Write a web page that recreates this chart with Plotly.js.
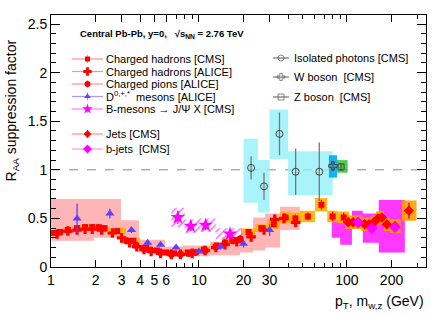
<!DOCTYPE html>
<html><head><meta charset="utf-8">
<script src="https://cdn.plot.ly/plotly-3.0.1.min.js"></script>
<style>html,body{margin:0;padding:0;background:#fff}#c{width:436px;height:316px}</style>
</head><body><div id="c"></div>
<script>
// ---------------- data ----------------
// Charged hadrons [CMS]
const cmsEdges = [1,1.1,1.2,1.4,1.6,1.8,2.0,2.2,2.4,3.2,4.0,4.8,5.6,6.4,7.2,9.6,12,14.4,19.2,24,28.8,35.2,41.6,48,60.8,73.6,86.4,103.6];
const cmsX = [1.05,1.15,1.3,1.5,1.7,1.9,2.1,2.3,2.8,3.6,4.4,5.2,6.0,6.8,8.4,10.8,13.2,16.8,21.6,26.4,32,38.4,44.8,54.4,67.2,80,95];
const cmsY = [0.35,0.36,0.38,0.40,0.41,0.41,0.41,0.40,0.37,0.27,0.20,0.17,0.15,0.14,0.15,0.18,0.22,0.28,0.36,0.40,0.44,0.51,0.50,0.52,0.64,0.52,0.51];
const cmsStat = [0.01,0.01,0.01,0.01,0.01,0.01,0.01,0.01,0.01,0.01,0.01,0.01,0.01,0.01,0.01,0.01,0.01,0.01,0.02,0.02,0.03,0.04,0.04,0.04,0.05,0.05,0.05];
const cmsSys = [0.03,0.03,0.03,0.03,0.03,0.03,0.03,0.03,0.035,0.03,0.025,0.02,0.02,0.02,0.02,0.02,0.025,0.03,0.035,0.04,0.05,0.06,0.06,0.06,0.07,0.06,0.06];
// Charged hadrons [ALICE]
const aliX = [1.1,1.3,1.5,1.7,1.9,2.2,2.6,3.0,3.4,3.8,4.25,4.75,5.5,6.5,7.5,9,11,13,15,18,22.5,27.5,32.5,37.5,45];
const aliY = [0.34,0.37,0.38,0.39,0.39,0.38,0.35,0.30,0.25,0.21,0.18,0.16,0.14,0.13,0.13,0.14,0.17,0.20,0.23,0.26,0.31,0.38,0.49,0.50,0.46];
const aliErr = [0.01,0.01,0.01,0.01,0.01,0.01,0.01,0.01,0.01,0.01,0.01,0.01,0.01,0.01,0.01,0.01,0.01,0.02,0.02,0.02,0.03,0.04,0.05,0.05,0.05];
const aliBoxLo = [1,1.95,2.97,3.93,5.9,7.8,11.9,18.9,23.2,28,35.3];
const aliBoxHi = [1.95,2.97,3.93,5.9,7.8,11.9,18.9,23.2,28,35.3,48];
const aliBoxY0 = [0.27,0.30,0.24,0.15,0.11,0.11,0.12,0.15,0.17,0.20,0.38];
const aliBoxY1 = [0.70,0.70,0.48,0.28,0.21,0.22,0.26,0.33,0.51,0.55,0.62];
// Charged pions [ALICE]
const pioX = [3.25,3.75,4.25,4.75,5.5,6.5,7.5,8.5,9.5,11,13,15,17,19];
const pioY = [0.27,0.22,0.19,0.17,0.15,0.13,0.13,0.14,0.15,0.17,0.21,0.25,0.27,0.29];
// D mesons [ALICE]
const dX = [1.5,2.5,3.5,4.5,5.5,7,10,14,20,30];
const dY = [0.50,0.55,0.38,0.25,0.23,0.20,0.16,0.21,0.24,0.38];
const dErr = [0.15,0.05,0.03,0.02,0.02,0.02,0.02,0.03,0.04,0.06];
// B-mesons -> J/psi X [CMS]
const bX = [7.2,8.8,11.1,16.2];
const bY = [0.51,0.42,0.43,0.34];
const bErr = [0.07,0.05,0.05,0.05];
const bBoxLo = [6.5,8,10,13];
const bBoxHi = [8,10,13,20];
const bSys = [0.10,0.07,0.07,0.06];
// Jets [CMS]
const jX = [102,110,119,132,141,152,162,172,186,211,262];
const jY = [0.46,0.46,0.46,0.44,0.44,0.46,0.50,0.51,0.44,0.42,0.58];
const jErr = [0.03,0.03,0.03,0.03,0.03,0.03,0.04,0.04,0.04,0.05,0.08];
const jLo = [97,106,114,125,136,146,157,167,178,196,235];
const jHi = [106,114,125,136,146,157,167,178,196,230,295];
const jSys = [0.07,0.07,0.07,0.07,0.07,0.07,0.07,0.07,0.07,0.07,0.105];
// b-jets [CMS]
const bjX = [119,147,211];
const bjY = [0.46,0.40,0.41];
const bjBoxLo = [79,90,108,128,164];
const bjBoxHi = [108,108,128,164,246];
const bjBoxY0 = [0.30,0.23,0.40,0.25,0.15];
const bjBoxY1 = [0.48,0.30,0.58,0.55,0.69];
// Isolated photons [CMS]
const phX = [22.5,27.5,35,45,65];
const phY = [1.02,0.83,1.37,0.98,0.98];
const phErr = [0.12,0.14,0.22,0.24,0.30];
const phLo = [20,25,30,40,50];
const phHi = [25,30,40,50,80];
const phBoxY0 = [0.66,0.56,1.11,0.74,0.74];
const phBoxY1 = [1.32,1.10,1.62,1.19,1.19];
// W and Z bosons [CMS]
const wX = [80.4], wY = [1.04], wErr = [0.05], wLo = [75.5], wHi = [85.6], wBoxY0 = [0.92], wBoxY1 = [1.15];
const zX = [91.2], zY = [1.03], zErr = [0.04], zLo = [85.6], zHi = [101], zBoxY0 = [0.97], zBoxY1 = [1.10];
// axis ticks
const xTicks = [1,2,3,4,5,6,10,20,30,100,200];
const yTicks = [0,0.5,1,1.5,2,2.5];
const yTickText = ['0','0.5','1','1.5','2','2.5'];

// ---------------- helpers ----------------
const FONT = 'Liberation Sans, Arial, Helvetica, sans-serif';
// plot frame in pixels (for legend placement only)
const PL = 51, PR = 426, PT = 15, PB = 267;
const px2paperX = p => (p - PL) / (PR - PL);
const px2paperY = p => (PB - p) / (PB - PT);
function rects(x0,x1,y0,y1){
  const xs=[],ys=[];
  for(let i=0;i<x0.length;i++){
    xs.push(x0[i],x1[i],x1[i],x0[i],x0[i],null);
    ys.push(y0[i],y0[i],y1[i],y1[i],y0[i],null);
  }
  return {xs,ys};
}
function boxTrace(r,color,extra){
  return Object.assign({type:'scatter',mode:'lines',x:r.xs,y:r.ys,fill:'toself',fillcolor:color,
    line:{width:0,color:color},hoverinfo:'skip',showlegend:false},extra||{});
}
function pts(x,y,err,sym,size,color,ecolor,extra){
  const t={type:'scatter',mode:'markers',x:x,y:y,showlegend:false,
    marker:{symbol:sym,size:size,color:color,line:{width:0,color:color}}};
  if(err) t.error_y={type:'data',array:err,visible:true,color:ecolor||color,thickness:1.3,width:0};
  return Object.assign(t,extra||{});
}

const traces=[];
traces.push(boxTrace(rects(bjBoxLo,bjBoxHi,bjBoxY0,bjBoxY1),'rgba(255,20,255,0.85)'));
traces.push(boxTrace(rects(aliBoxLo,aliBoxHi,aliBoxY0,aliBoxY1),'rgba(255,120,120,0.55)'));
traces.push(boxTrace(rects(phLo,phHi,phBoxY0,phBoxY1),'rgba(140,240,250,0.75)'));
traces.push(boxTrace(rects(wLo,wHi,wBoxY0,wBoxY1),'rgba(0,170,240,0.9)'));
traces.push(boxTrace(rects(zLo,zHi,zBoxY0,zBoxY1),'rgba(60,200,60,0.9)'));
traces.push(boxTrace(rects(cmsEdges.slice(0,-1),cmsEdges.slice(1),
  cmsY.map((v,i)=>v-cmsSys[i]),cmsY.map((v,i)=>v+cmsSys[i])),'rgba(255,175,0,0.9)'));
traces.push(boxTrace(rects(jLo,jHi,jY.map((v,i)=>v-jSys[i]),jY.map((v,i)=>v+jSys[i])),'rgba(255,160,0,0.92)'));
traces.push(boxTrace(rects(bBoxLo,bBoxHi,bY.map((v,i)=>v-bSys[i]),bY.map((v,i)=>v+bSys[i])),'rgba(0,0,0,0)',
  {fillpattern:{shape:'/',fgcolor:'#ff70ff',bgcolor:'rgba(255,255,255,0)',size:5,solidity:0.3}}));

traces.push(pts(pioX,pioY,null,'circle',7,'#ff0000'));
traces.push(pts(aliX,aliY,aliErr,'cross',8,'#ff0000'));
traces.push(pts(cmsX,cmsY,cmsStat,'square',6,'#ff0000'));
traces.push(pts(jX,jY,jErr,'diamond',8,'#ff0000'));
traces.push(pts(bjX,bjY,null,'diamond',9,'#ff00ff'));
traces.push(pts(dX,dY,dErr,'triangle-up',8,'#6040ff'));
traces.push(pts(bX,bY,bErr,'star',11,'#ff00ff'));
traces.push(pts(phX,phY,phErr,'circle-open',7,'#444',"#777",{marker:{symbol:'circle-open',size:7,color:'#444',line:{width:1,color:'#444'}}}));
traces.push(pts(wX,wY,wErr,'cross-open',7,'#444',"#555",{marker:{symbol:'cross-open',size:7,color:'#444',line:{width:1,color:'#444'}}}));
traces.push(pts(zX,zY,zErr,'square-open',6,'#444',"#555",{marker:{symbol:'square-open',size:6,color:'#444',line:{width:1,color:'#444'}}}));

// ---------------- legend (pixel frame on overlay axes) ----------------
const legL = {
  text:['Charged hadrons [CMS]','Charged hadrons [ALICE]','Charged pions [ALICE]','D<sup>0,+,*</sup>  mesons [ALICE]','B-mesons \u2192 J/\u03A8 X [CMS]','Jets [CMS]','b-jets  [CMS]'],
  row:[59,71.5,84,96.5,109,134,149],
  sym:['square','cross','circle','triangle-up','star','diamond','diamond'],
  size:[5,7,6,6,8,6,7],
  col:['#ff0000','#ff0000','#ff0000','#6040ff','#ff00ff','#ff0000','#ff00ff'],
  lcol:['#ff9090','#ff9090','#ff9090','#a898ff','#ff80ff','#ff9090','#ff90ff']
};
const legR = {
  text:['Isolated photons [CMS]','W boson  [CMS]','Z boson  [CMS]'],
  row:[58,77,97],
  sym:['circle-open','cross-open','square-open']
};
const annotations=[];
legL.text.forEach((t,i)=>{
  traces.push({type:'scatter',mode:'lines',x:[72,103],y:[legL.row[i],legL.row[i]],xaxis:'x2',yaxis:'y2',
    line:{color:legL.lcol[i],width:1.2},showlegend:false,hoverinfo:'skip'});
  traces.push({type:'scatter',mode:'markers',x:[87.5],y:[legL.row[i]],xaxis:'x2',yaxis:'y2',showlegend:false,hoverinfo:'skip',
    marker:{symbol:legL.sym[i],size:legL.size[i],color:legL.col[i]},
    error_y:{type:'constant',value:4,color:legL.lcol[i],thickness:1,width:0}});
  annotations.push({xref:'paper',yref:'paper',x:px2paperX(104),y:px2paperY(legL.row[i]),xanchor:'left',yanchor:'middle',showarrow:false,
    text:t,font:{family:FONT,size:11,color:'#000'}});
});
legR.text.forEach((t,i)=>{
  traces.push({type:'scatter',mode:'lines+markers',x:[273,281,289],y:[legR.row[i],legR.row[i],legR.row[i]],xaxis:'x2',yaxis:'y2',
    line:{color:'#555',width:1},marker:{symbol:legR.sym[i],size:[0,6,0],color:'#555',line:{width:1,color:'#555'}},
    showlegend:false,hoverinfo:'skip'});
  annotations.push({xref:'paper',yref:'paper',x:px2paperX(292),y:px2paperY(legR.row[i]),xanchor:'left',yanchor:'middle',showarrow:false,
    text:t,font:{family:FONT,size:11,color:'#000'}});
});
annotations.push({xref:'paper',yref:'paper',x:px2paperX(78),y:px2paperY(34),xanchor:'left',yanchor:'middle',showarrow:false,
  text:'<b>Central Pb-Pb, y=0,   \u221As<sub>NN</sub> = 2.76 TeV</b>',font:{family:FONT,size:9.5,color:'#000'}});
annotations.push({xref:'paper',yref:'paper',x:1,y:-0.095,xanchor:'right',yanchor:'top',showarrow:false,
  text:'p<sub>T</sub>, m<sub>w,z</sub> (GeV)',font:{family:FONT,size:14,color:'#000'}});
annotations.push({xref:'paper',yref:'paper',x:-0.105,y:0.62,xanchor:'center',yanchor:'middle',showarrow:false,textangle:-90,
  text:'R<sub>AA</sub> suppression factor',font:{family:FONT,size:14,color:'#000'}});

const layout={
  width:436,height:316,margin:{l:51,r:10,t:15,b:49},
  paper_bgcolor:'#fff',plot_bgcolor:'#fff',showlegend:false,
  font:{family:FONT,size:14,color:'#000'},
  xaxis:{type:'log',range:[0,Math.log10(342)],tickmode:'array',tickvals:xTicks,ticktext:xTicks.map(String),
    ticks:'inside',ticklen:7,tickcolor:'#000',showline:true,linecolor:'#000',linewidth:1,mirror:'ticks',
    showgrid:false,zeroline:false,tickfont:{family:FONT,size:14},
    minor:{dtick:'D1',ticks:'inside',ticklen:4,tickcolor:'#000',showgrid:false}},
  yaxis:{range:[0,2.593],tickmode:'array',tickvals:yTicks,ticktext:yTickText,
    ticks:'inside',ticklen:9,tickcolor:'#000',showline:true,linecolor:'#000',linewidth:1,mirror:'ticks',
    showgrid:false,zeroline:false,tickfont:{family:FONT,size:14},
    minor:{dtick:0.1,ticks:'inside',ticklen:5,tickcolor:'#000',showgrid:false}},
  xaxis2:{overlaying:'x',range:[PL,PR],visible:false,fixedrange:true},
  yaxis2:{overlaying:'y',range:[PB,PT],visible:false,fixedrange:true},
  shapes:[{type:'line',xref:'paper',yref:'y',x0:0,x1:1,y0:1,y1:1,line:{color:'#888',width:1,dash:'dash'},layer:'below'}],
  annotations:annotations
};
Plotly.newPlot('c',traces,layout,{displayModeBar:false,staticPlot:true});
</script></body></html>
